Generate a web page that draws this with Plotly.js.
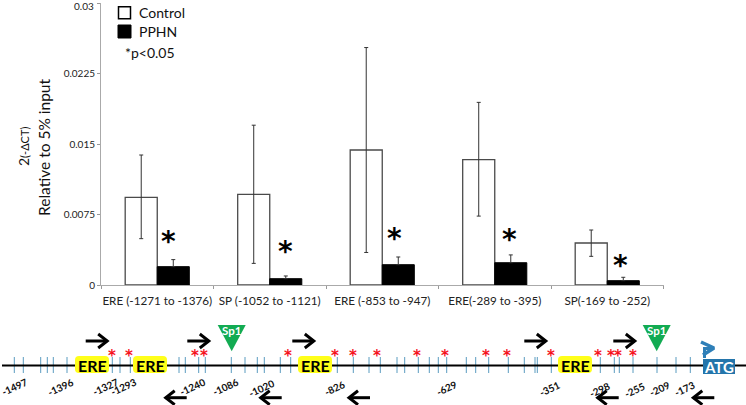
<!DOCTYPE html>
<html><head><meta charset="utf-8">
<script src="https://cdn.plot.ly/plotly-3.0.1.min.js"></script>
<style>html,body{margin:0;padding:0;background:#fff;overflow:hidden}</style>
</head><body><div id="chart" style="width:746px;height:405px"></div>
<script>
const categories = ["ERE (-1271 to -1376)","SP (-1052 to -1121)","ERE (-853 to -947)","ERE(-289 to -395)","SP(-169 to -252)"];
const controlValues = [0.00933,0.00965,0.01436,0.01333,0.00447];
const controlErrUp = [0.0045,0.00735,0.0109,0.0061,0.00138];
const controlErrDown = [0.0044,0.00735,0.0109,0.0060,0.00142];
const pphnValues = [0.00195,0.00067,0.00216,0.00237,0.00046];
const pphnErr = [0.00075,0.00029,0.00082,0.00083,0.00036];
const yTicks = [0,0.0075,0.015,0.0225,0.03];
const yTickLabels = ["0","0.0075","0.015","0.0225",""];

const sigStars = [[168,238],[285,248],[394,235],[509,236],[620,262]];
const siteTicks = [14.3,23.3,40.7,47.3,53.3,67,112.3,120,130.3,179,185.3,198.7,205.3,231.3,245,257.3,264.3,280.3,290.7,337.3,353.3,369,380.3,397,404.7,418.3,429.3,438.3,446.7,466.3,475.7,488.7,508.3,524.3,535,537.3,551.3,600.3,614.3,619.3,633,657,676,690.3];
const redStars = [112,128.7,195.3,204,288.3,334.7,352.7,377.3,417,444.7,486.3,507.3,550.7,598.3,610.7,618.3,633];
const ereBoxes = [75,133,298,558];
const sp1Sites = [231.7,656.7];
const forwardArrows = [85.7,187.3,292.3,524.3,613.3];
const reverseArrows = [165.7,260.7,349,597.7,693.3];
const posLabels = [["-1497",14,387],["-1396",60.7,387],["-1327",105,387],["-1293",123,387],["-1240",192,387],["-1086",225,387],["-1020",261.7,388],["-826",334.7,388],["-629",446.7,388],["-351",549,389],["-298",599,390],["-255",634.5,390],["-209",659,389],["-173",684,389]];

const FONT = "Lato, 'Open Sans', sans-serif";
const traces = [];
traces.push({type:'bar',name:'Control',x:categories,y:controlValues,xaxis:'x',yaxis:'y',
  marker:{color:'#fff',line:{color:'#4a4a4a',width:1.3}},
  error_y:{type:'data',symmetric:false,array:controlErrUp,arrayminus:controlErrDown,color:'#333',thickness:1,width:2},showlegend:false});
traces.push({type:'bar',name:'PPHN',x:categories,y:pphnValues,xaxis:'x',yaxis:'y',
  marker:{color:'#000',line:{color:'#000',width:1}},
  error_y:{type:'data',symmetric:false,array:pphnErr,arrayminus:[0,0,0,0,0],color:'#333',thickness:1,width:2},showlegend:false});

// promoter schematic (page-pixel axes x2/y2)
const tx=[],ty=[];
siteTicks.forEach(v=>{tx.push(v,v,null);ty.push(357,373,null);});
traces.push({type:'scatter',mode:'lines',x:tx,y:ty,xaxis:'x2',yaxis:'y2',line:{color:'#5a9cc0',width:1},showlegend:false,hoverinfo:'skip'});
traces.push({type:'scatter',mode:'lines',x:[2,746],y:[365.5,365.5],xaxis:'x2',yaxis:'y2',line:{color:'#000',width:2},showlegend:false,hoverinfo:'skip'});
const ax=[],ay=[];
forwardArrows.forEach(s=>{const t=s+21.5;ax.push(s,t,null,t-9,t,t-9,null);ay.push(341,341,null,334,341,348,null);});
reverseArrows.forEach(s=>{const b=s+21;ax.push(b,s,null,s+9,s,s+9,null);ay.push(397.7,397.7,null,390.7,397.7,404.7,null);});
traces.push({type:'scatter',mode:'lines',x:ax,y:ay,xaxis:'x2',yaxis:'y2',line:{color:'#000',width:3},showlegend:false,hoverinfo:'skip'});
// bent arrow above ATG
traces.push({type:'scatter',mode:'lines',x:[704.5,704.5,712],y:[358,348.5,348.5],xaxis:'x2',yaxis:'y2',line:{color:'#2e7fb8',width:3},showlegend:false,hoverinfo:'skip'});
traces.push({type:'scatter',mode:'lines',x:[701,714,703],y:[342,348,355],xaxis:'x2',yaxis:'y2',line:{color:'#2e7fb8',width:3.5},showlegend:false,hoverinfo:'skip'});
// legend swatches
traces.push({type:'scatter',mode:'markers',x:[124.5],y:[12.8],xaxis:'x2',yaxis:'y2',marker:{symbol:'square',size:12,color:'#fff',line:{color:'#000',width:1.5}},showlegend:false,hoverinfo:'skip'});
traces.push({type:'scatter',mode:'markers',x:[124.5],y:[31.5],xaxis:'x2',yaxis:'y2',marker:{symbol:'square',size:13,color:'#000',line:{color:'#000',width:1}},showlegend:false,hoverinfo:'skip'});

const shapes=[];
const rr=(x0,y0,x1,y1,r)=>`M${x0+r},${y0}L${x1-r},${y0}Q${x1},${y0} ${x1},${y0+r}L${x1},${y1-r}Q${x1},${y1} ${x1-r},${y1}L${x0+r},${y1}Q${x0},${y1} ${x0},${y1-r}L${x0},${y0+r}Q${x0},${y0} ${x0+r},${y0}Z`;
ereBoxes.forEach(x=>shapes.push({type:'path',xref:'x2',yref:'y2',layer:'above',path:rr(x,356,x+34,373,4),fillcolor:'#ffff1a',line:{width:0}}));
sp1Sites.forEach(x=>shapes.push({type:'path',xref:'x2',yref:'y2',layer:'above',path:`M${x-14},325L${x+14},325L${x},351.3Z`,fillcolor:'#12ab52',line:{width:0}}));
shapes.push({type:'rect',xref:'x2',yref:'y2',layer:'above',x0:703,x1:735,y0:359,y1:374,fillcolor:'#2475ab',line:{width:0}});

const ann=[];
const A=(text,x,y,size,opts)=>ann.push(Object.assign({text,x,y,xref:'x2',yref:'y2',showarrow:false,xanchor:'center',yanchor:'middle',borderpad:0,font:{family:FONT,size,color:'#111'}},opts||{}));
A('Relative to 5% input',44,148,15.5,{textangle:-90});
A('2<span style="font-size:11px">(-ΔCT)</span>',23,147,14,{textangle:-90});
A('Control',138,12.5,14,{xanchor:'left'});
A('PPHN',138,31.5,14,{xanchor:'left'});
A('*p&lt;0.05',124,52.5,14,{xanchor:'left'});
A('0.03',95,6,10,{xanchor:'right',font:{family:FONT,size:10,color:'#222'}});
sigStars.forEach(p=>A('<b>*</b>',p[0],p[1]+3,28,{font:{family:"'DejaVu Sans'",size:28,color:'#000'}}));
redStars.forEach(x=>A('<b>*</b>',x,355.5,15,{font:{family:"'DejaVu Sans'",size:15,color:'#f5121e'}}));
ereBoxes.forEach(x=>A('<b>ERE</b>',x+17,365,16,{font:{family:FONT,size:16,color:'#000'}}));
sp1Sites.forEach(x=>A('<b>Sp1</b>',x,330.5,11.5,{font:{family:FONT,size:11.5,color:'#fff'}}));
A('<b>ATG</b>',719,366.5,15,{font:{family:FONT,size:15,color:'#fff'}});
posLabels.forEach(p=>A('<b>'+p[0]+'</b>',p[1],p[2],10,{textangle:-25,font:{family:FONT,size:10,color:'#111'}}));

const layout={
  width:746,height:405,margin:{l:0,r:0,t:0,b:0,pad:0},paper_bgcolor:'#fff',plot_bgcolor:'rgba(0,0,0,0)',
  barmode:'group',bargap:0.43,bargroupgap:0,showlegend:false,
  xaxis:{domain:[101/746,663.5/746],type:'category',tickson:'boundaries',ticks:'outside',ticklen:3,tickcolor:'#999',ticklabelstandoff:5,
    showline:true,linecolor:'#aaa',linewidth:1,showgrid:false,tickfont:{family:FONT,size:11.7,color:'#222'},tickangle:0,anchor:'y'},
  yaxis:{domain:[120/405,402/405],range:[0,0.03],tickvals:yTicks,ticktext:yTickLabels,ticks:'outside',ticklen:3,tickcolor:'#999',
    showline:true,linecolor:'#aaa',linewidth:1,showgrid:false,zeroline:false,tickfont:{family:FONT,size:10,color:'#222'},anchor:'x'},
  xaxis2:{domain:[0,1],range:[0,746],visible:false,anchor:'y2',fixedrange:true},
  yaxis2:{domain:[0,1],range:[405,0],visible:false,anchor:'x2',fixedrange:true},
  shapes:shapes,annotations:ann
};
Plotly.newPlot('chart',traces,layout,{displayModeBar:false,staticPlot:true});
</script></body></html>
